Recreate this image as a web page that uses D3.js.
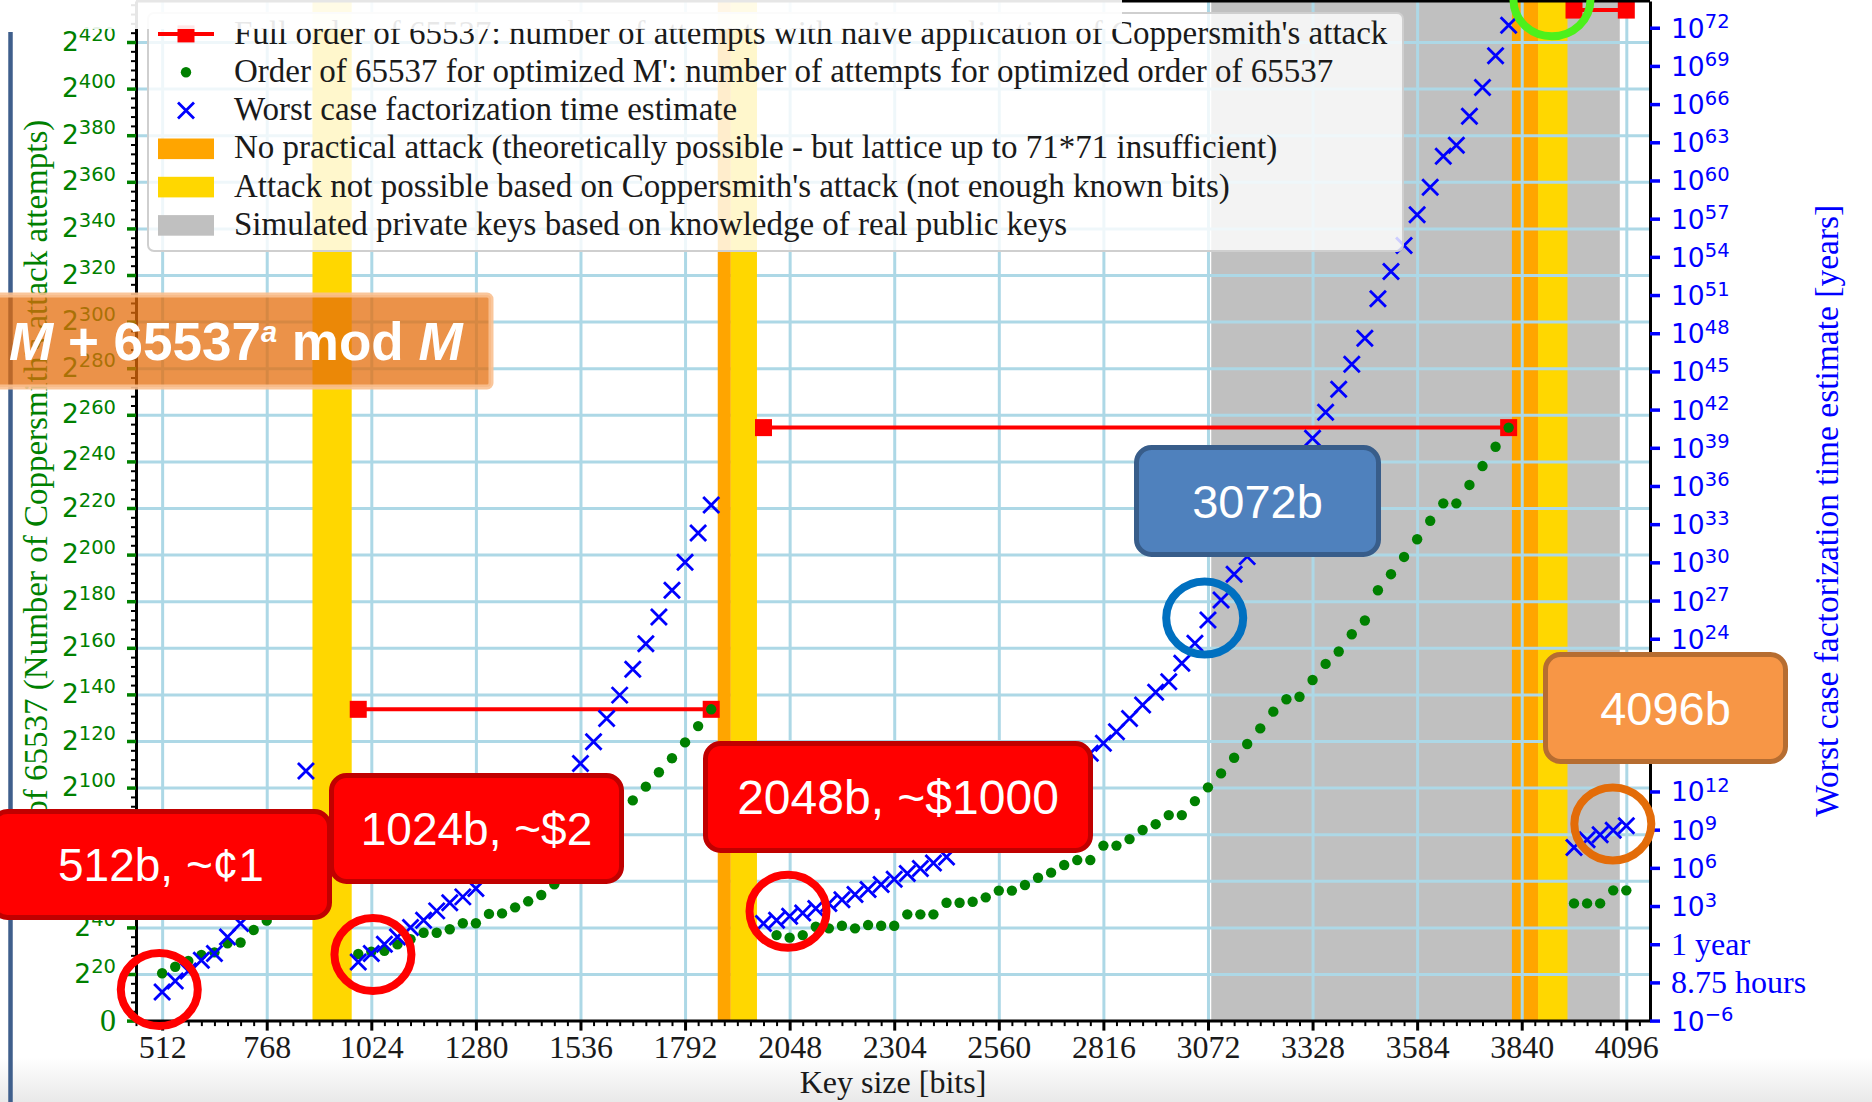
<!DOCTYPE html>
<html>
<head>
<meta charset="utf-8">
<script src="https://cdn.jsdelivr.net/npm/d3@7"></script>
<style>
  html, body { margin: 0; padding: 0; background: #fff; }
  svg { display: block; }
  text { white-space: pre; }
</style>
</head>
<body>
<svg id="chart" width="1872" height="1102"></svg>
<script>
// ---------- data ----------
// key sizes in bits, order of 65537 in log2(attempts), factorization time in log10(years)
// null = point hidden behind a callout box in the reference
const keySizesLow = [512, 544, 576, 608, 640, 672, 704, 736, 768, 800, 832, 864];
const orderLow    = [20.3, 23.1, 25.6, 28.2, 29.3, 33.2, 33.5, 38.9, 42.9, null, null, null];
const timeLow     = [-3.75, -2.89, -2.1, -1.26, -0.73, 0.57, 1.63, null, null, null, null, 13.6];

const keySizes1k = [992, 1024, 1056, 1088, 1120, 1152, 1184, 1216, 1248, 1280, 1312, 1344, 1376, 1408,
                    1440, 1472, 1504, 1536, 1568, 1600, 1632, 1664, 1696, 1728, 1760, 1792, 1824, 1856];
const order1k = [28.6, 29.6, 30.0, 32.7, 34.9, 37.7, 37.7, 39.2, 41.8, 41.8, 45.8, 46.0, 48.6, 51.2,
                 53.9, 58.5, null, null, null, null, null, 94.5, 100.4, 106.6, 112.6, 119.4, 126.4, 133.6];
const time1k  = [-1.39, -0.73, 0.0, 0.57, 1.31, 1.89, 2.62, 3.25, 3.72, 4.38, null, null, null, null,
                 null, null, null, 14.2, 15.9, 17.74, 19.57, 21.6, 23.6, 25.7, 27.8, 30.0, 32.3, 34.5];

const keySizes2k = [1984, 2016, 2048, 2080, 2112, 2144, 2176, 2208, 2240, 2272, 2304, 2336, 2368, 2400,
                    2432, 2464, 2496, 2528, 2560, 2592, 2624, 2656, 2688, 2720, 2752, 2784, 2816, 2848,
                    2880, 2912, 2944, 2976, 3008, 3040, 3072, 3104, 3136, 3168, 3200, 3232, 3264, 3296,
                    3328, 3360, 3392, 3424, 3456, 3488, 3520, 3552, 3584, 3616, 3648, 3680, 3712, 3744,
                    3776, 3808];
const order2k = [null, 36.7, 35.6, 36.7, 40.3, 39.6, 40.7, 39.6, 41.0, 40.7, 40.7, 45.6, 45.6, 45.6,
                 50.6, 50.6, 51.0, 52.9, 55.8, 55.8, 58.2, 61.3, 63.5, 66.8, 68.9, 68.9, 75.1, 75.1,
                 77.9, 81.8, 84.3, 88.2, 88.2, 94.2, 100.1, 106.1, 112.8, 118.7, 125.4, 132.6, 137.9, 139.0,
                 146.2, 153.1, 158.4, 165.8, 171.7, 184.7, 191.6, 199.0, 206.6, 214.5, 222.0, 222.0, 229.9, 238.0,
                 246.3, 254.5];
const time2k  = [1.63, 1.89, 2.2, 2.46, 2.8, 3.2, 3.5, 3.9, 4.3, 4.7, 5.1, 5.56, 5.95, 6.39,
                 6.86, null, null, null, null, null, null, null, null, null, null, 15.0, 15.78, 16.69,
                 17.74, 18.79, 19.79, 20.62, 22.07, 23.64, 25.47, 27.04, 29.06, 30.45, null, null, null, null,
                 39.75, 41.8, 43.6, 45.57, 47.6, 50.7, 52.85, 54.9, 57.3, 59.46, 61.9, 62.76, 65.04, 67.3,
                 69.8, 72.2];

const keySizes4k = [3968, 4000, 4032, 4064, 4096];
const order4k    = [50.3, 50.3, 50.3, 55.9, 55.9];
const time4k     = [7.6, 8.2, 8.6, 8.95, 9.3];

// full order of 65537 (naive Coppersmith), one flat segment per M
const fullOrderStart = [992, 1984, 3968];
const fullOrderEnd   = [1856, 3808, 4096];
const fullOrderLog2  = [133.6, 254.5, 433.7];

// shaded key size ranges
const graySpan    = [3080, 4080];
const orangeSpans = [[1872, 1904], [3816, 3880]];
const yellowSpans = [[880, 976], [1904, 1968], [3880, 3952]];

const xTicks = [512, 768, 1024, 1280, 1536, 1792, 2048, 2304, 2560, 2816, 3072, 3328, 3584, 3840, 4096];
const leftTicks = [0, 20, 40, 60, 80, 100, 120, 140, 160, 180, 200, 220, 240, 260, 280, 300,
                   320, 340, 360, 380, 400, 420];
const rightTicks = [-6, -3, 0, 3, 6, 9, 12, 15, 18, 21, 24, 27, 30, 33, 36, 39, 42, 45, 48, 51,
                    54, 57, 60, 63, 66, 69, 72];
const rightTickNames = { '-3': '8.75 hours', '0': '1 year' };

const legendLabels = [
  "Full order of 65537: number of attempts with naive application of Coppersmith's attack",
  "Order of 65537 for optimized M': number of attempts for optimized order of 65537",
  "Worst case factorization time estimate",
  "No practical attack (theoretically possible - but lattice up to 71*71 insufficient)",
  "Attack not possible based on Coppersmith's attack (not enough known bits)",
  "Simulated private keys based on knowledge of real public keys"
];

// slide callouts drawn over the chart
const callouts = [
  { text: '512b, ~\u00a21',   x: -10,  y: 809, w: 342, h: 111, fill: '#FF0000', stroke: '#C00000', size: 46 },
  { text: '1024b, ~$2',      x: 329,  y: 773, w: 295, h: 111, fill: '#FF0000', stroke: '#C00000', size: 46 },
  { text: '2048b, ~$1000',   x: 703,  y: 741, w: 390, h: 112, fill: '#FF0000', stroke: '#C00000', size: 48 },
  { text: '3072b',           x: 1134, y: 445, w: 247, h: 112, fill: '#4F81BD', stroke: '#385D8A', size: 47 },
  { text: '4096b',           x: 1543, y: 652, w: 245, h: 112, fill: '#F79646', stroke: '#B66D31', size: 47 }
];
// rings around the interesting points (key size, log10 years)
const rings = [
  { bits: 505,  t: -3.56, color: '#FF0000' },
  { bits: 1028, t: -0.81, color: '#FF0000' },
  { bits: 2044, t: 2.59,  color: '#FF0000' },
  { bits: 3064, t: 25.63, color: '#0070C0' },
  { bits: 4063, t: 9.45,  color: '#E36C09' },
  { bits: 3914, t: 74.2,  color: '#4DF01C' }
];

// ---------- setup ----------
const RED = '#FF0000', GREEN = '#008000', BLUE = '#0000FF';
const GRAY = '#C0C0C0', ORANGE = '#FFA500', GOLD = '#FFD700', GRID = '#ADD8E6';
const SERIF = '"Liberation Serif", "DejaVu Serif", serif';
const SANS = '"DejaVu Sans", sans-serif';
const ARIAL = '"Liberation Sans", Arial, sans-serif';

const svg = d3.select('#chart');

const x = d3.scaleLinear().domain([448, 4154]).range([136, 1650]);
const yL = d3.scaleLinear().domain([0, 437.6]).range([1020.6, 1]);
const yR = d3.scaleLinear().domain([-6, 74.1]).range([1020.6, 1]);
const top_ = yL.range()[1], bottom = yL.range()[0];
const left = x.range()[0], right = x.range()[1];

// slide background bits
const defs = svg.append('defs');
const grad = defs.append('linearGradient').attr('id', 'bottomFade').attr('x1', 0).attr('y1', 0).attr('x2', 0).attr('y2', 1);
grad.append('stop').attr('offset', '0%').attr('stop-color', '#ffffff');
grad.append('stop').attr('offset', '100%').attr('stop-color', '#e9e9e9');
svg.append('rect').attr('x', 0).attr('y', 1058).attr('width', 1872).attr('height', 44).attr('fill', 'url(#bottomFade)');

const plot = svg.append('g');

function band(g, a, b, color) {
  g.append('rect')
    .attr('x', x(a)).attr('width', x(b) - x(a))
    .attr('y', top_).attr('height', bottom - top_)
    .attr('fill', color);
}

// the simulated-keys region sits below the grid, the other bands above it
band(plot, graySpan[0], graySpan[1], GRAY);
orangeSpans.filter(s => s[0] >= graySpan[0]).forEach(s => band(plot, s[0], s[1], ORANGE));
yellowSpans.filter(s => s[0] >= graySpan[0]).forEach(s => band(plot, s[0], s[1], GOLD));

// grid
plot.append('g').attr('transform', `translate(0,${bottom})`)
  .call(d3.axisBottom(x).tickValues(xTicks).tickSize(-(bottom - top_)).tickFormat(''))
  .call(g => g.select('.domain').remove())
  .selectAll('line').attr('stroke', GRID).attr('stroke-width', 3);
plot.append('g').attr('transform', `translate(${left},0)`)
  .call(d3.axisLeft(yL).tickValues(leftTicks.filter(d => d > 0)).tickSize(-(right - left)).tickFormat(''))
  .call(g => g.select('.domain').remove())
  .selectAll('line').attr('stroke', GRID).attr('stroke-width', 3);

orangeSpans.filter(s => s[0] < graySpan[0]).forEach(s => band(plot, s[0], s[1], ORANGE));
yellowSpans.filter(s => s[0] < graySpan[0]).forEach(s => band(plot, s[0], s[1], GOLD));

// full order segments
fullOrderStart.forEach((s, i) => {
  const yy = yL(fullOrderLog2[i]);
  plot.append('line')
    .attr('x1', x(s)).attr('x2', x(fullOrderEnd[i]))
    .attr('y1', yy).attr('y2', yy)
    .attr('stroke', RED).attr('stroke-width', 4);
  [s, fullOrderEnd[i]].forEach(b => {
    plot.append('rect').attr('x', x(b) - 8.5).attr('y', yy - 8.5)
      .attr('width', 17).attr('height', 17).attr('fill', RED);
  });
});

function pairs(keys, vals) {
  return keys.map((k, i) => ({ k: k, v: vals[i] })).filter(d => d.v !== null);
}
const greenPts = [].concat(pairs(keySizesLow, orderLow), pairs(keySizes1k, order1k),
                           pairs(keySizes2k, order2k), pairs(keySizes4k, order4k));
const bluePts = [].concat(pairs(keySizesLow, timeLow), pairs(keySizes1k, time1k),
                          pairs(keySizes2k, time2k), pairs(keySizes4k, time4k));

plot.selectAll('.dot').data(greenPts).enter().append('circle')
  .attr('class', 'dot')
  .attr('cx', d => x(d.k)).attr('cy', d => yL(d.v))
  .attr('r', 5.2).attr('fill', GREEN);

const crossPath = 'M-8,-8L8,8M-8,8L8,-8';
plot.selectAll('.cross').data(bluePts).enter().append('path')
  .attr('class', 'cross')
  .attr('d', crossPath)
  .attr('transform', d => `translate(${x(d.k)},${yR(d.v)})`)
  .attr('fill', 'none').attr('stroke', BLUE).attr('stroke-width', 2.8);

// ---------- axes ----------
// top spine
svg.append('line').attr('x1', left).attr('x2', right).attr('y1', top_).attr('y2', top_)
  .attr('stroke', '#000').attr('stroke-width', 3);

// bottom
const gx = svg.append('g').attr('transform', `translate(0,${bottom})`)
  .call(d3.axisBottom(x).tickValues(xTicks).tickSize(10).tickSizeOuter(0).tickFormat(d3.format('d')));
gx.select('.domain').attr('stroke', '#000').attr('stroke-width', 3);
gx.selectAll('.tick line').attr('stroke', '#000').attr('stroke-width', 3);
gx.selectAll('.tick text')
  .attr('y', 37.5).attr('dy', null)
  .attr('font-family', SERIF).attr('font-size', 32).attr('fill', '#1a1a1a');
const xMinor = d3.range(448, 4160, 32).filter(d => xTicks.indexOf(d) < 0);
svg.append('g').attr('transform', `translate(0,${bottom})`)
  .call(d3.axisBottom(x).tickValues(xMinor).tickSize(5.5).tickFormat(''))
  .call(g => g.select('.domain').remove())
  .selectAll('line').attr('stroke', '#000').attr('stroke-width', 2);
svg.append('text').attr('x', (left + right) / 2).attr('y', 1093)
  .attr('text-anchor', 'middle').attr('font-family', SERIF).attr('font-size', 32).attr('fill', '#1a1a1a')
  .text('Key size [bits]');

// left
const yMinor = d3.range(0, 437, 4).filter(d => d % 20 !== 0);
svg.append('g').attr('transform', `translate(${left},0)`)
  .call(d3.axisLeft(yL).tickValues(yMinor).tickSize(5).tickFormat(''))
  .call(g => g.select('.domain').remove())
  .selectAll('line').attr('stroke', '#000').attr('stroke-width', 2);
const gl = svg.append('g').attr('transform', `translate(${left},0)`)
  .call(d3.axisLeft(yL).tickValues(leftTicks).tickSize(9).tickSizeOuter(0));
gl.select('.domain').attr('stroke', '#000').attr('stroke-width', 3);
gl.selectAll('.tick line').attr('stroke', GREEN).attr('stroke-width', 3.5);
gl.selectAll('.tick text').each(function (d) {
  const t = d3.select(this).text(null).attr('x', -20).attr('fill', GREEN).attr('text-anchor', 'end');
  if (d === 0) {
    t.attr('dy', 10).attr('font-family', SERIF).attr('font-size', 32).text('0');
  } else {
    t.attr('dy', 8).attr('font-family', SANS).attr('font-size', 26.5);
    t.append('tspan').text('2');
    t.append('tspan').attr('font-size', 19.5).attr('dy', -9.5).text(d);
  }
});
svg.append('text')
  .attr('transform', `translate(47,${(top_ + bottom) / 2}) rotate(-90)`)
  .attr('text-anchor', 'middle').attr('font-family', SERIF).attr('font-size', 33).attr('fill', GREEN)
  .text("Order of 65537 (Number of Coppersmith's attack attempts)");

// right
const gr = svg.append('g').attr('transform', `translate(${right},0)`)
  .call(d3.axisRight(yR).tickValues(rightTicks).tickSize(10).tickSizeOuter(0));
gr.select('.domain').attr('stroke', '#000').attr('stroke-width', 3);
gr.selectAll('.tick line').attr('stroke', BLUE).attr('stroke-width', 3.5);
gr.selectAll('.tick text').each(function (d) {
  const t = d3.select(this).text(null).attr('x', 21).attr('fill', BLUE).attr('text-anchor', 'start');
  const name = rightTickNames[String(d)];
  if (name) {
    t.attr('dy', 10).attr('font-family', SERIF).attr('font-size', 32).text(name);
  } else {
    t.attr('dy', 9.5).attr('font-family', SANS).attr('font-size', 26.5);
    t.append('tspan').text('10');
    t.append('tspan').attr('font-size', 19.5).attr('dy', -9.5).text(String(d).replace('-', '\u2212'));
  }
});
svg.append('text')
  .attr('transform', `translate(1838,${(top_ + bottom) / 2}) rotate(-90)`)
  .attr('text-anchor', 'middle').attr('font-family', SERIF).attr('font-size', 33.5).attr('fill', BLUE)
  .text('Worst case factorization time estimate [years]');

// ---------- legend ----------
const legend = svg.append('g');
legend.append('rect').attr('x', 148).attr('y', 13).attr('width', 1255).attr('height', 238)
  .attr('rx', 6).attr('fill', '#fff').attr('fill-opacity', 0.8)
  .attr('stroke', '#cfcfcf').attr('stroke-width', 2);
legendLabels.forEach((label, i) => {
  const base = 43.5 + i * 38.3;
  const cy = base - 9.6;
  const hx = 186;
  if (i === 0) {
    legend.append('line').attr('x1', 158).attr('x2', 214).attr('y1', cy).attr('y2', cy)
      .attr('stroke', RED).attr('stroke-width', 4);
    legend.append('rect').attr('x', hx - 8.5).attr('y', cy - 8.5).attr('width', 17).attr('height', 17).attr('fill', RED);
  } else if (i === 1) {
    legend.append('circle').attr('cx', hx).attr('cy', cy).attr('r', 5.2).attr('fill', GREEN);
  } else if (i === 2) {
    legend.append('path').attr('d', crossPath).attr('transform', `translate(${hx},${cy})`)
      .attr('stroke', BLUE).attr('stroke-width', 2.8).attr('fill', 'none');
  } else {
    legend.append('rect').attr('x', 158).attr('y', cy - 10.3).attr('width', 56).attr('height', 20.6)
      .attr('fill', [ORANGE, GOLD, GRAY][i - 3]);
  }
  legend.append('text').attr('x', 234).attr('y', base)
    .attr('font-family', SERIF).attr('font-size', 33).attr('fill', '#1a1a1a')
    .text(label);
});

// faded strip across the top of the slide
svg.append('rect').attr('x', 0).attr('y', 0).attr('width', 1122).attr('height', 29)
  .attr('fill', '#fff').attr('fill-opacity', 0.9);

// slide side bar
svg.append('line').attr('x1', 10.5).attr('x2', 10.5).attr('y1', 32).attr('y2', 1102)
  .attr('stroke', '#3F5F8C').attr('stroke-width', 4.5);

// ---------- annotations ----------
svg.append('rect').attr('x', -10).attr('y', 295).attr('width', 501).attr('height', 92)
  .attr('rx', 4).attr('fill', 'rgb(228,108,10)').attr('fill-opacity', 0.74)
  .attr('stroke', '#FAC090').attr('stroke-opacity', 0.9).attr('stroke-width', 5);
const formula = svg.append('text').attr('x', 9).attr('y', 360)
  .attr('font-family', ARIAL).attr('font-size', 53).attr('font-weight', 'bold').attr('fill', '#fff');
formula.append('tspan').attr('font-style', 'italic').text('M');
formula.append('tspan').text(' + 65537');
formula.append('tspan').attr('font-style', 'italic').attr('font-size', 29).attr('dy', -18).text('a');
formula.append('tspan').attr('dy', 18).text(' mod ');
formula.append('tspan').attr('font-style', 'italic').text('M');

callouts.forEach(c => {
  svg.append('rect').attr('x', c.x + 2.5).attr('y', c.y + 2.5)
    .attr('width', c.w - 5).attr('height', c.h - 5).attr('rx', 15)
    .attr('fill', c.fill).attr('stroke', c.stroke).attr('stroke-width', 5);
  svg.append('text').attr('x', c.x + c.w / 2).attr('y', c.y + c.h / 2 + 0.36 * c.size)
    .attr('text-anchor', 'middle').attr('font-family', ARIAL).attr('font-size', c.size)
    .attr('fill', '#fff').text(c.text);
});

svg.selectAll('.ring').data(rings).enter().append('ellipse')
  .attr('class', 'ring')
  .attr('cx', d => x(d.bits)).attr('cy', d => yR(d.t))
  .attr('rx', 38.5).attr('ry', 36.5)
  .attr('fill', 'none').attr('stroke', d => d.color).attr('stroke-width', 8);
</script>
</body>
</html>
